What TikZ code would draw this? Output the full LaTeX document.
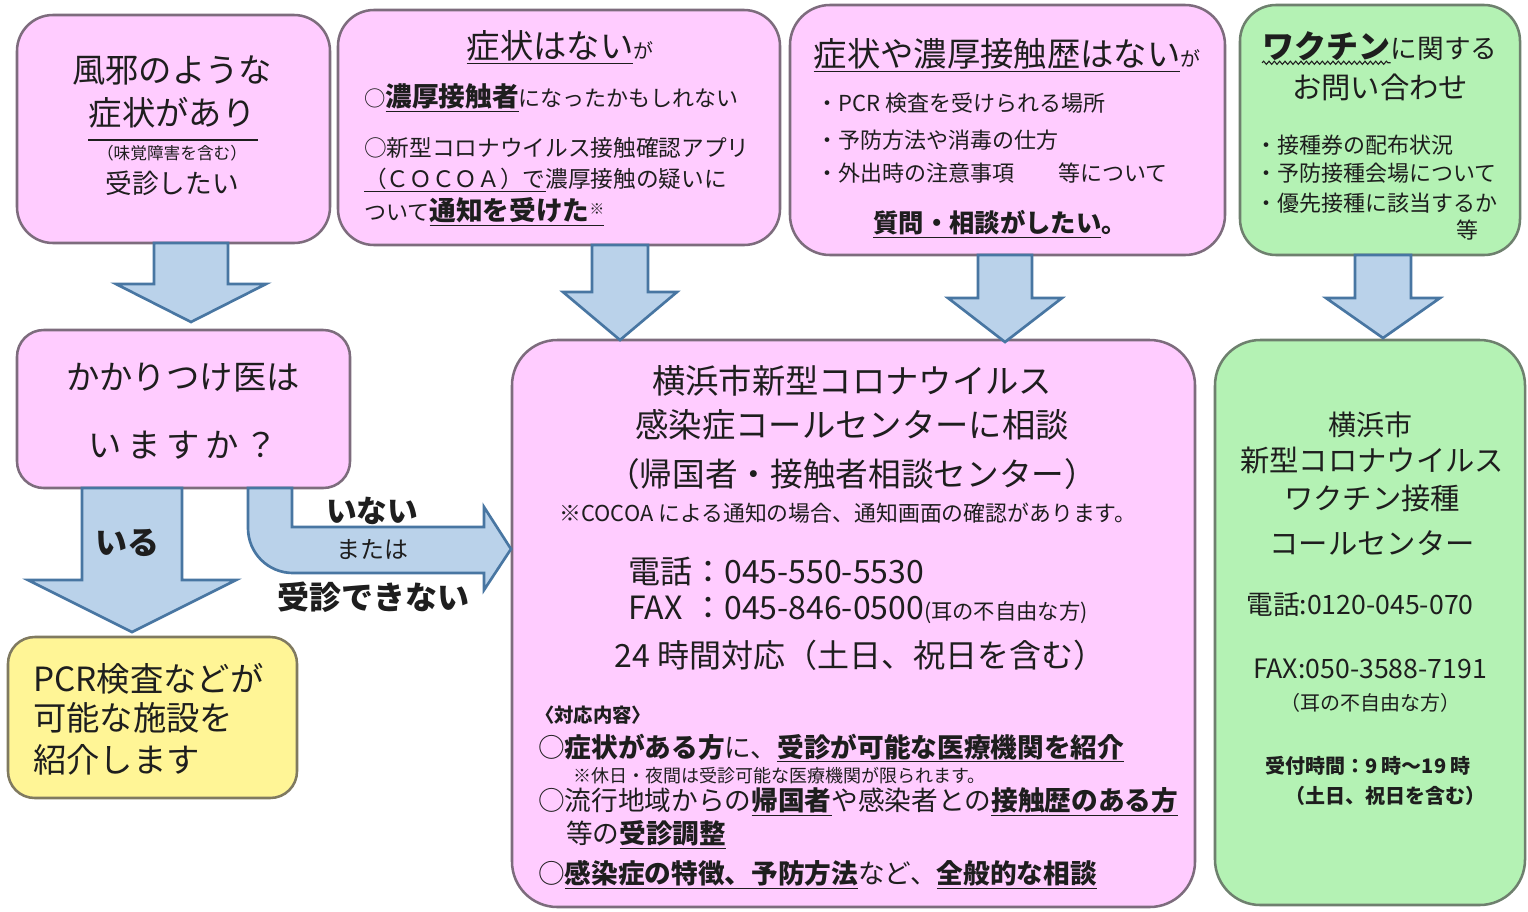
\documentclass[tikz,border=0pt]{standalone}
\usepackage{fontspec}
\setmainfont{Noto Sans CJK JP}
\usetikzlibrary{fit,decorations.pathmorphing}
\definecolor{pinkfill}{RGB}{255,204,255}
\definecolor{pinkline}{RGB}{125,108,125}
\definecolor{greenfill}{RGB}{180,242,180}
\definecolor{greenline}{RGB}{110,128,110}
\definecolor{yellowfill}{RGB}{255,245,150}
\definecolor{yellowline}{RGB}{128,122,96}
\definecolor{arrowfill}{RGB}{186,210,234}
\definecolor{arrowline}{RGB}{72,118,162}
\definecolor{ink}{RGB}{30,30,30}
\newcommand\fsz[1]{\fontsize{#1}{#1}\selectfont}
\newcommand\blockdown[6]{%
  \draw[arrowbox] ({#1-#5},#2) -- ({#1+#5},#2) -- ({#1+#5},#3) -- ({#1+#6},#3)
    -- (#1,#4) -- ({#1-#6},#3) -- ({#1-#5},#3) -- cycle;}
\tikzset{
  boxbase/.style={inner sep=0pt, line width=1.9pt},
  pinkbox/.style={boxbase, draw=pinkline, fill=pinkfill},
  greenbox/.style={boxbase, draw=greenline, fill=greenfill},
  yellowbox/.style={boxbase, draw=yellowline, fill=yellowfill},
  arrowbox/.style={draw=arrowline, fill=arrowfill, line width=2pt, line join=miter},
  txt/.style={inner sep=0pt, text=ink, font=\fsz{16}},
  lt/.style={txt, anchor=west},
}
\begin{document}
\begin{tikzpicture}[x=0.75pt,y=-0.75pt]
\useasboundingbox (0,0) rectangle (1528,911);
\fill[white] (0,0) rectangle (1528,911);

% boxes
\node[pinkbox, rounded corners=27pt, fit={(17,15) (330,243)}] (boxA) {};
\node[pinkbox, rounded corners=27pt, fit={(338,10) (780,245)}] (boxB) {};
\node[pinkbox, rounded corners=30pt, fit={(790,5) (1225,255)}] (boxC) {};
\node[greenbox, rounded corners=27pt, fit={(1240,5) (1520,255)}] (boxD) {};
\node[pinkbox, rounded corners=20pt, fit={(17,330) (350,488)}] (boxE) {};
\node[yellowbox, rounded corners=20pt, fit={(8,637) (297,798)}] (boxF) {};
\node[pinkbox, rounded corners=34pt, fit={(512,340) (1195,907)}] (boxG) {};
\node[greenbox, rounded corners=34pt, fit={(1215,340) (1525,905)}] (boxH) {};

% block arrows
\blockdown{191}{243}{284}{322}{37}{75}
\blockdown{620}{245}{292}{340}{28}{57}
\blockdown{1005}{255}{298}{342}{27}{57}
\blockdown{1383}{255}{298}{338}{28}{57}
\blockdown{132}{488}{580}{632}{50}{104}
\draw[arrowbox] (248,488) -- (248,528) .. controls (248,553) and (268,573) .. (293,573)
  -- (484,573) -- (484,590) -- (511,549) -- (484,507) -- (484,527) -- (292,527) -- (292,488) -- cycle;

% box A
\node[txt] (a1) at (172,70) {\fsz{25}風邪のような};
\node[txt] (a2) at (172,113) {\fsz{25}症状があり};
\draw[ink, line width=1.2pt] (88,140) -- (258,140);
\node[txt] (a3) at (172,153) {\fsz{12.5}（味覚障害を含む）};
\node[txt] (a4) at (172,183) {\fsz{20}受診したい};

% box B
\node[txt] (b1) at (560,47) {\fsz{25}\underline{症状はない}\fsz{15}が};
\node[lt] (b2) at (364,98) {\fsz{16}○\fsz{20}\bfseries\underline{濃厚接触者}\mdseries\fsz{16.5}になったかもしれない};
\node[lt] (b3) at (364,148) {\fsz{17}○新型コロナウイルス接触確認アプリ};
\node[lt] (b4) at (364,180) {\fsz{17}\underline{（ＣＯＣＯＡ）で}濃厚接触の疑いに};
\node[lt] (b5) at (364,212) {\fsz{16.5}ついて\fsz{20}\bfseries\underline{通知を受けた\raisebox{5pt}{\fsz{11}※}}};

% box C
\node[txt] (c1) at (1007,55) {\fsz{25}\underline{症状や濃厚接触歴はない}\fsz{15}が};
\node[lt] (c2) at (816,103) {\fsz{16.5}・PCR 検査を受けられる場所};
\node[lt] (c3) at (816,140) {\fsz{16.5}・予防方法や消毒の仕方};
\node[lt] (c4) at (816,173) {\fsz{16.5}・外出時の注意事項　　等について};
\node[txt] (c5) at (1000,224) {\fsz{19}\bfseries\underline{質問・相談がしたい}。};

% box D
\node[txt, anchor=base west] (d1) at (1262,58) {\fsz{24}\bfseries ワクチン};
\node[txt, anchor=base west] (d1b) at (d1.base east) {\fsz{20}に関する};
\draw[ink, line width=0.8pt, decorate, decoration={snake, amplitude=1.2pt, segment length=4pt}]
  ([yshift=-1.5pt]d1.south west) -- ([yshift=-1.5pt]d1.south east);
\node[txt] (d2) at (1380,87) {\fsz{22}お問い合わせ};
\node[lt] (d3) at (1255,145) {\fsz{16.5}・接種券の配布状況};
\node[lt] (d4) at (1255,173) {\fsz{16.5}・予防接種会場について};
\node[lt] (d5) at (1255,203) {\fsz{16.5}・優先接種に該当するか};
\node[txt] (d6) at (1467,230) {\fsz{16.5}等};

% box E
\node[txt] (e1) at (183,378) {\fsz{25}かかりつけ医は};
\node[txt] (e2) at (183,445) {\fsz{25}い\,ま\,す\,か\,？};

% box F
\node[lt] (f1) at (33,679) {\fsz{25}PCR検査などが};
\node[lt] (f2) at (33,718) {\fsz{25}可能な施設を};
\node[lt] (f3) at (33,760) {\fsz{25}紹介します};

% arrow labels
\node[txt] (l1) at (127,543) {\fsz{24}\bfseries いる};
\node[txt] (l2) at (372,511) {\fsz{23}\bfseries いない};
\node[txt] (l3) at (372,550) {\fsz{18}または};
\node[txt] (l4) at (373,597) {\fsz{24}\bfseries 受診できない};

% box G
\node[txt] (g1) at (852,381) {\fsz{25}横浜市新型コロナウイルス};
\node[txt] (g2) at (852,425) {\fsz{25}感染症コールセンターに相談};
\node[txt] (g3) at (852,474) {\fsz{24.5}（帰国者・接触者相談センター）};
\node[txt] (g4) at (848,513) {\fsz{16.4}※COCOA による通知の場合、通知画面の確認があります。};
\node[lt] (g5) at (628,572) {\fsz{24}電話：045-550-5530};
\node[lt] (g6) at (628,610) {\fsz{24}\makebox[2em][l]{FAX}：045-846-0500\fsz{16}(耳の不自由な方)};
\node[txt] (g7) at (860,655) {\fsz{24}24 時間対応（土日、祝日を含む）};
\node[lt] (g8) at (535,715) {\fsz{14.5}\bfseries〈対応内容〉};
\node[lt] (g9) at (538,748) {\fsz{20}○\bfseries 症状がある方\mdseries に、\bfseries\underline{受診が可能な医療機関を紹介}};
\node[lt] (g10) at (573,776) {\fsz{13.5}※休日・夜間は受診可能な医療機関が限られます。};
\node[lt] (g11) at (538,802) {\fsz{20}○流行地域からの\bfseries\underline{帰国者}\mdseries や感染者との\bfseries\underline{接触歴のある方}};
\node[lt] (g12) at (566,835) {\fsz{20}等の\bfseries\underline{受診調整}};
\node[lt] (g13) at (538,875) {\fsz{20}○\bfseries\underline{感染症の特徴、予防方法}\mdseries など、\bfseries\underline{全般的な相談}};

% box H
\node[txt] (h1) at (1370,425) {\fsz{21}横浜市};
\node[txt] (h2) at (1372,460) {\fsz{22}新型コロナウイルス};
\node[txt] (h3) at (1372,498) {\fsz{22}ワクチン接種};
\node[txt] (h4) at (1372,543) {\fsz{22}コールセンター};
\node[txt] (h5) at (1360,605) {\fsz{20}電話:0120-045-070};
\node[txt] (h6) at (1370,669) {\fsz{20}FAX:050-3588-7191};
\node[txt] (h7) at (1370,703) {\fsz{15}（耳の不自由な方）};
\node[txt] (h8) at (1368,766) {\fsz{15}\bfseries 受付時間：9 時〜19 時};
\node[txt] (h9) at (1385,796) {\fsz{15}\bfseries（土日、祝日を含む）};
\end{tikzpicture}
\end{document}
